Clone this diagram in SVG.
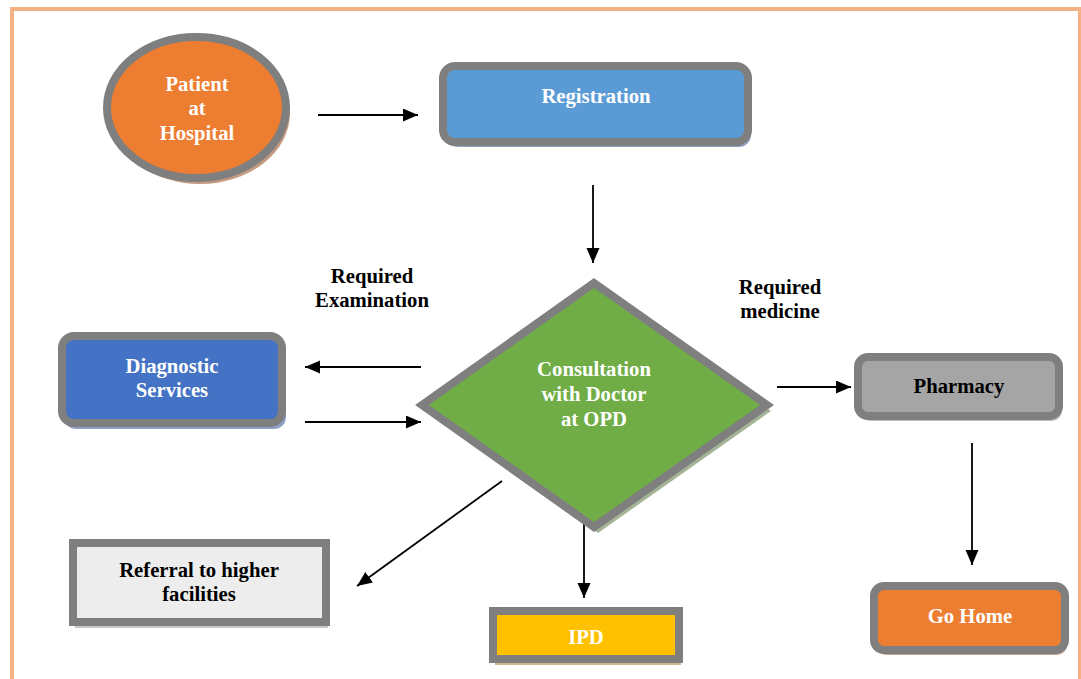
<svg xmlns="http://www.w3.org/2000/svg" width="1081" height="679" viewBox="0 0 1081 679">
<style>
.t{font-family:"Liberation Serif","Times New Roman",serif;font-weight:bold;font-size:20.7px;text-anchor:middle}
.w{fill:#FFFFFF}
.b{fill:#000000}
.g{stroke:#7F7F7F;stroke-width:8}
.c{stroke:#000000;stroke-width:1.8;fill:none;marker-end:url(#ah)}
</style>
<defs>
<marker id="ah" markerUnits="userSpaceOnUse" markerWidth="16" markerHeight="14" refX="15" refY="6.5" orient="auto">
<path d="M0,0 L15,6.5 L0,13 Z" fill="#000000"/>
</marker>
</defs>
<rect width="1081" height="679" fill="#FFFFFF"/>
<rect x="12" y="9" width="1068" height="700" fill="none" stroke="#F4B183" stroke-width="4"/>

<g id="connectors">
<line class="c" x1="318" y1="115" x2="418" y2="115"/>
<line class="c" x1="593" y1="185" x2="593" y2="263"/>
<line class="c" x1="421" y1="367" x2="305" y2="367"/>
<line class="c" x1="305" y1="422" x2="421" y2="422"/>
<line class="c" x1="777" y1="387" x2="851" y2="387"/>
<line class="c" x1="972" y1="443" x2="972" y2="565"/>
<line class="c" x1="584" y1="521" x2="584" y2="598"/>
<line class="c" x1="502" y1="481" x2="357" y2="586"/>
</g>

<g id="patient">
<ellipse cx="200" cy="113" rx="90" ry="71" fill="#C49A80"/>
<ellipse class="g" cx="196.5" cy="107.5" rx="89.5" ry="70.5" fill="#ED7D31"/>
<text class="t w" x="197" y="91">Patient</text>
<text class="t w" x="197" y="115">at</text>
<text class="t w" x="197" y="140">Hospital</text>
</g>

<g id="registration">
<rect x="446" y="71" width="305" height="76" rx="12" fill="#8EA5C2"/>
<rect class="g" x="443" y="66" width="305" height="76" rx="12" fill="#5B9BD5"/>
<text class="t w" x="596" y="103">Registration</text>
</g>

<g id="consultation">
<polygon points="598,289 771,411 598,533 426,411" fill="#A3B596"/>
<polygon class="g" points="594,283 767,405 594,527 422,405" fill="#70AD47"/>
<text class="t w" x="594" y="376">Consultation</text>
<text class="t w" x="594" y="401">with Doctor</text>
<text class="t w" x="594" y="426">at OPD</text>
</g>

<g id="diagnostic">
<rect x="64" y="341" width="222" height="88" rx="12" fill="#8EA0C8"/>
<rect class="g" x="62" y="336" width="220" height="87" rx="12" fill="#4472C4"/>
<text class="t w" x="172" y="373">Diagnostic</text>
<text class="t w" x="172" y="397">Services</text>
</g>

<g id="pharmacy">
<rect x="860" y="362" width="202" height="59" rx="10" fill="#BFBFBF"/>
<rect class="g" x="858" y="357" width="201" height="59" rx="10" fill="#A5A5A5"/>
<text class="t b" x="959" y="393">Pharmacy</text>
</g>

<g id="gohome">
<rect x="876" y="591" width="191" height="64" rx="10" fill="#C8A48A"/>
<rect class="g" x="874" y="586" width="191" height="64" rx="10" fill="#ED7D31"/>
<text class="t w" x="970" y="623">Go Home</text>
</g>

<g id="ipd">
<rect x="495" y="617" width="186" height="48" fill="#C9B98A"/>
<rect class="g" x="493" y="611" width="186" height="48" fill="#FFC000"/>
<text class="t w" x="586" y="644">IPD</text>
</g>

<g id="referral">
<rect x="75" y="549" width="253" height="79" fill="#C8C8C8"/>
<rect class="g" x="73" y="543" width="253" height="79" fill="#EDEDED"/>
<text class="t b" x="199" y="577">Referral to higher</text>
<text class="t b" x="199" y="601">facilities</text>
</g>

<g id="labels">
<text class="t b" x="372" y="283">Required</text>
<text class="t b" x="372" y="307">Examination</text>
<text class="t b" x="780" y="294">Required</text>
<text class="t b" x="780" y="318">medicine</text>
</g>
</svg>
